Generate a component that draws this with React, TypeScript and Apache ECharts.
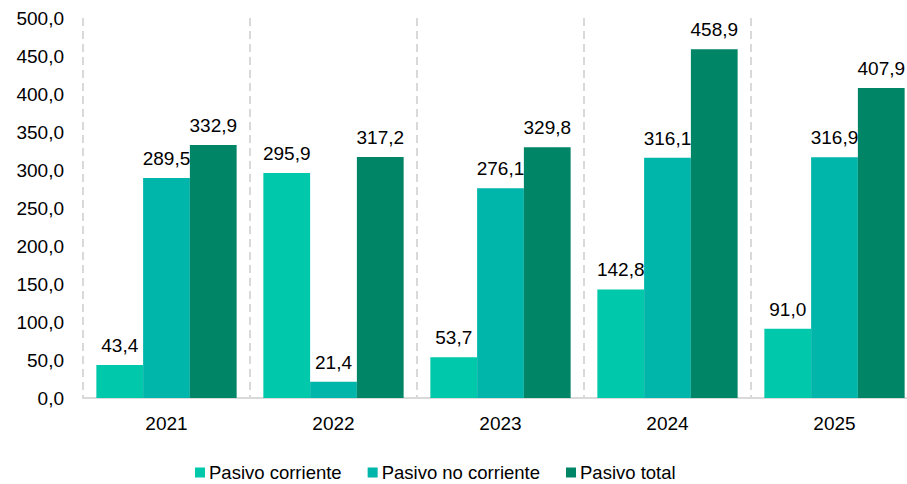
import React, { useEffect, useRef } from "react";
import * as echarts from "echarts";

const categories = ["2021", "2022", "2023", "2024", "2025"];
const seriesNames = ["Pasivo corriente", "Pasivo no corriente", "Pasivo total"];
const pasivoCorriente = [43.4, 295.9, 53.7, 142.8, 91.0];
const pasivoNoCorriente = [289.5, 21.4, 276.1, 316.1, 316.9];
const pasivoTotal = [332.9, 317.2, 329.8, 458.9, 407.9];
const colors = ["#00C8AA", "#00B5A9", "#008566"];

const fmt = (v: number) => v.toFixed(1).replace(".", ",");
const FONT = "'Liberation Sans', Arial, sans-serif";
const FS = 19;

export default function App() {
  const ref = useRef<HTMLDivElement>(null);
  useEffect(() => {
    if (!ref.current) return;
    const chart = echarts.init(ref.current, undefined, { renderer: "svg" });
    const data = [pasivoCorriente, pasivoNoCorriente, pasivoTotal];
    chart.setOption({
      animation: false,
      textStyle: { fontFamily: FONT },
      grid: { left: 83, right: 2, top: 18, bottom: 86, containLabel: false },
      legend: {
        left: 190,
        top: 458,
        itemWidth: 10,
        itemHeight: 10,
        itemGap: 26,
        icon: "rect",
        textStyle: { fontSize: 18.5, color: "#000", fontFamily: FONT, padding: [0, 0, 0, -1] },
        data: seriesNames,
      },
      xAxis: {
        type: "category",
        data: categories,
        axisLine: { show: true, lineStyle: { color: "#d9d9d9", width: 2 } },
        axisTick: { show: false },
        axisLabel: { fontSize: FS, color: "#000", margin: 16, fontFamily: FONT },
        splitLine: { show: true, lineStyle: { color: "#d9d9d9", width: 2, type: [8, 5] } },
      },
      yAxis: {
        type: "value",
        min: 0,
        max: 500,
        interval: 50,
        axisLine: { show: false },
        axisTick: { show: false },
        splitLine: { show: false },
        axisLabel: { fontSize: FS, color: "#000", margin: 19, fontFamily: FONT, formatter: (v: number) => fmt(v) },
      },
      series: data.map((d, i) => ({
        name: seriesNames[i],
        type: "bar",
        data: d,
        barGap: "0%",
        barCategoryGap: "16%",
        itemStyle: { color: colors[i] },
        label: {
          show: true,
          position: "top",
          distance: 10,
          fontSize: FS,
          color: "#000",
          fontFamily: FONT,
          formatter: (p: any) => fmt(p.value),
        },
      })),
    });
    return () => chart.dispose();
  }, []);
  return (
    <div
      style={{ position: "absolute", left: 0, top: 0, width: 907, height: 484, overflow: "hidden", background: "#fff" }}
    >
      <div ref={ref} style={{ width: 920, height: 484 }} />
    </div>
  );
}
